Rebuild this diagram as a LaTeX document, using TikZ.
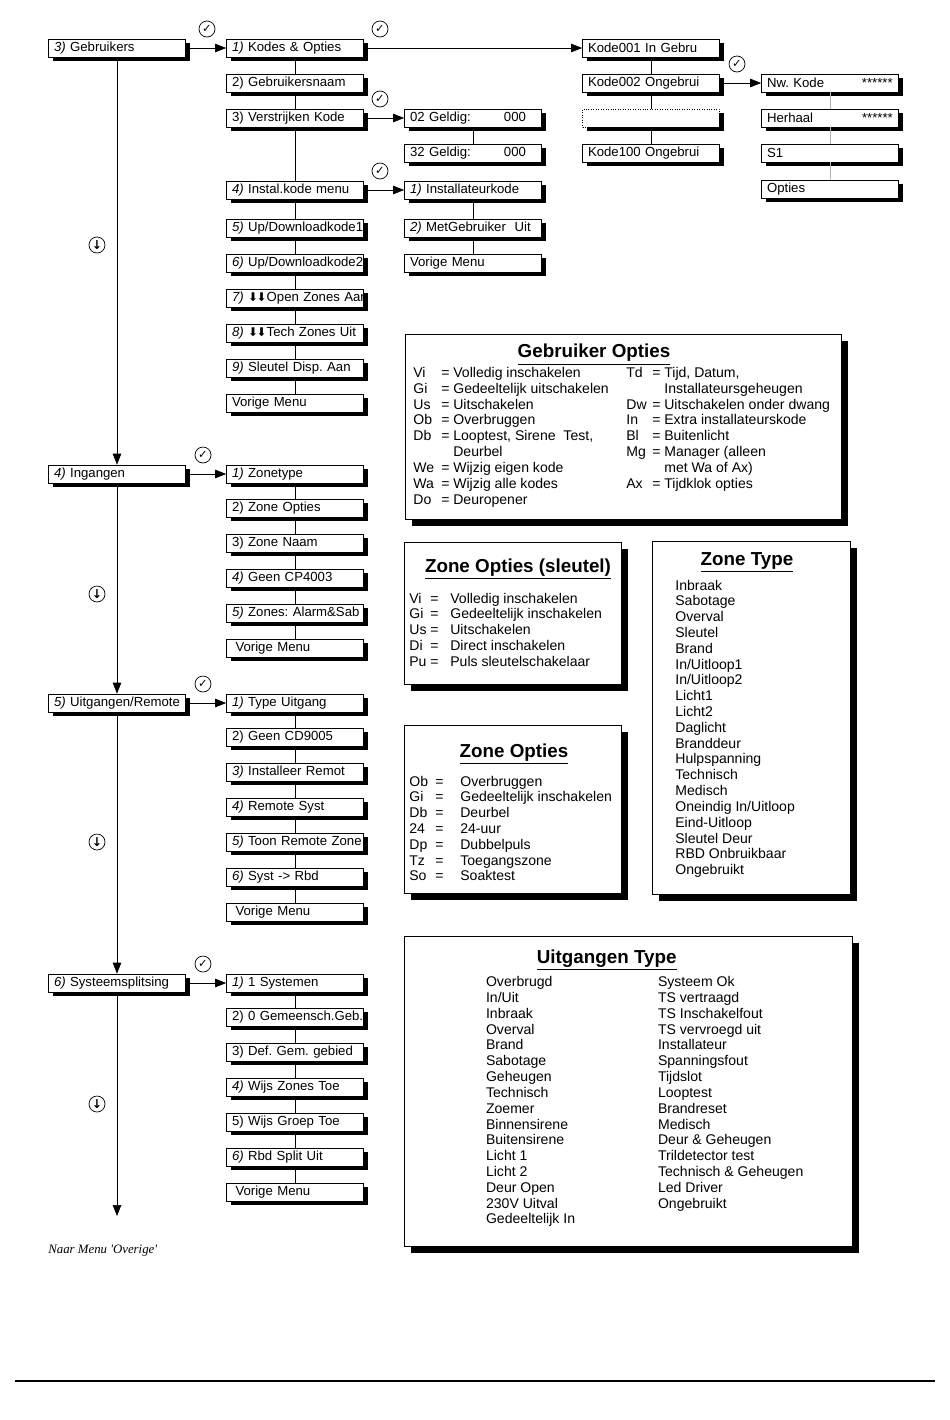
\documentclass[tikz,border=0pt]{standalone}
\usepackage{fontspec}
\setmainfont{Liberation Sans}
\newfontfamily\timesit{Liberation Serif}
\newfontfamily\symfnt{DejaVu Sans}
\usetikzlibrary{arrows.meta,shadows}
\frenchspacing
\newcommand{\nr}[1]{\textit{#1)}}
\newcommand{\pijl}{{\symfnt\fontsize{6.8}{7}\selectfont ⬇\kern-0.8pt⬇}}

\begin{document}
\begin{tikzpicture}[x=0.02cm,y=-0.02cm,
 mb/.style={draw,fill=white,minimum width=2.74cm,minimum height=0.36cm,inner xsep=0.11cm,inner ysep=0pt,
  text width=2.52cm,align=left,font=\fontsize{7.5}{9}\selectfont,
  execute at begin node={\leavevmode\hbox\bgroup},execute at end node={\egroup},
  drop shadow={shadow xshift=0.09cm,shadow yshift=-0.07cm,fill=black,opacity=1}},
 pnl/.style={draw,fill=white,inner sep=0pt,
  drop shadow={shadow xshift=0.14cm,shadow yshift=-0.14cm,fill=black,opacity=1}},
 ttl/.style={anchor=base,inner sep=0pt,font=\fontsize{10.7}{12}\selectfont\bfseries},
 lst/.style={anchor=base west,inner sep=0pt,font=\fontsize{8}{9}\selectfont},
 chk/.style={draw,circle,minimum size=0.32cm,inner sep=0pt,font=\symfnt\fontsize{6.5}{7}\selectfont},
 ar/.style={-{Triangle[length=0.22cm,width=0.17cm]}}]
\useasboundingbox (0,0) rectangle (950,1420);

% hoofdmenu
\node[mb] (m3) at (117,48) {\nr{3} Gebruikers};
\node[mb] (m4) at (117,474) {\nr{4} Ingangen};
\node[mb] (m5) at (117,703) {\nr{5} Uitgangen/Remote};
\node[mb] (m6) at (117,983) {\nr{6} Systeemsplitsing};
\coordinate (eind) at (117,1216);

% gebruikers
\node[mb] (a1) at (295,48) {\nr{1} Kodes \& Opties};
\node[mb] (a2) at (295,83) {2) Gebruikersnaam};
\node[mb] (a3) at (295,118) {3) Verstrijken Kode};
\node[mb] (a4) at (295,190) {\nr{4} Instal.kode menu};
\node[mb] (a5) at (295,228) {\nr{5} Up/Downloadkode1};
\node[mb] (a6) at (295,263) {\nr{6} Up/Downloadkode2};
\node[mb] (a7) at (295,298) {\nr{7} \pijl Open Zones Aan};
\node[mb] (a8) at (295,333) {\nr{8} \pijl Tech Zones Uit};
\node[mb] (a9) at (295,368) {\nr{9} Sleutel Disp. Aan};
\node[mb] (a10) at (295,403) {Vorige Menu};

\node[mb] (v1) at (473,118) {\makebox[1.88cm][l]{02 Geldig:}000};
\node[mb] (v2) at (473,153) {\makebox[1.88cm][l]{32 Geldig:}000};
\node[mb] (k1) at (473,190) {\nr{1} Installateurkode};
\node[mb] (k2) at (473,228) {\nr{2} MetGebruiker\ \ Uit};
\node[mb] (k3) at (473,263) {Vorige Menu};

\node[mb] (e1) at (651,48) {Kode001 In Gebru};
\node[mb] (e2) at (651,83) {Kode002 Ongebrui};
\node[mb,densely dotted] (e3) at (651,118) {};
\node[mb] (e4) at (651,153) {Kode100 Ongebrui};

\node[mb] (n1) at (830,83) {\makebox[1.9cm][l]{Nw. Kode}******};
\node[mb] (n2) at (830,118) {\makebox[1.9cm][l]{Herhaal}******};
\node[mb] (n3) at (830,153) {S1};
\node[mb] (n4) at (830,189) {Opties};

% ingangen
\node[mb] (b1) at (295,474) {\nr{1} Zonetype};
\node[mb] (b2) at (295,508) {2) Zone Opties};
\node[mb] (b3) at (295,543) {3) Zone Naam};
\node[mb] (b4) at (295,578) {\nr{4} Geen CP4003};
\node[mb] (b5) at (295,613) {\nr{5} Zones: Alarm\&Sab};
\node[mb] (b6) at (295,648) {\hspace{2pt}Vorige Menu};

% uitgangen
\node[mb] (c1) at (295,703) {\nr{1} Type Uitgang};
\node[mb] (c2) at (295,737) {2) Geen CD9005};
\node[mb] (c3) at (295,772) {\nr{3} Installeer Remot};
\node[mb] (c4) at (295,807) {\nr{4} Remote Syst};
\node[mb] (c5) at (295,842) {\nr{5} Toon Remote Zone};
\node[mb] (c6) at (295,877) {\nr{6} Syst -> Rbd};
\node[mb] (c7) at (295,912) {\hspace{2pt}Vorige Menu};

% systeemsplitsing
\node[mb] (d1) at (295,983) {\nr{1} 1 Systemen};
\node[mb] (d2) at (295,1017) {2) 0 Gemeensch.Geb.};
\node[mb] (d3) at (295,1052) {3) Def. Gem. gebied};
\node[mb] (d4) at (295,1087) {\nr{4} Wijs Zones Toe};
\node[mb] (d5) at (295,1122) {5) Wijs Groep Toe};
\node[mb] (d6) at (295,1157) {\nr{6} Rbd Split Uit};
\node[mb] (d7) at (295,1192) {\hspace{2pt}Vorige Menu};

\draw[ar] (m3) -- (m4);
\draw[ar] (m4) -- (m5);
\draw[ar] (m5) -- (m6);
\draw[ar] (m6) -- (eind);
\draw[ar] (m3) -- (a1);
\draw[ar] (m4) -- (b1);
\draw[ar] (m5) -- (c1);
\draw[ar] (m6) -- (d1);
\draw[ar] (a1) -- (e1);
\draw[ar] (a3) -- (v1);
\draw[ar] (a4) -- (k1);
\draw[ar] (e2) -- (n1);
\draw (a1) -- (a2) (a2) -- (a3) (a3) -- (a4) (a4) -- (a5) (a5) -- (a6);
\draw (a6) -- (a7) (a7) -- (a8) (a8) -- (a9) (a9) -- (a10);
\draw (v1) -- (v2) (k1) -- (k2) (k2) -- (k3);
\draw (e1) -- (e2) (e2) -- (e3) (e3) -- (e4);
\draw[gray!60] (n1) -- (n2) (n2) -- (n3) (n3) -- (n4);
\draw (b1) -- (b2) (b2) -- (b3) (b3) -- (b4) (b4) -- (b5) (b5) -- (b6);
\draw (c1) -- (c2) (c2) -- (c3) (c3) -- (c4) (c4) -- (c5) (c5) -- (c6) (c6) -- (c7);
\draw (d1) -- (d2) (d2) -- (d3) (d3) -- (d4) (d4) -- (d5) (d5) -- (d6) (d6) -- (d7);

\node[chk] (ok1) at (207,29) {✓};
\node[chk] (ok2) at (380,29) {✓};
\node[chk] (ok3) at (380,99) {✓};
\node[chk] (ok4) at (380,171) {✓};
\node[chk] (ok5) at (737,64) {✓};
\node[chk] (ok6) at (203,455) {✓};
\node[chk] (ok7) at (203,684) {✓};
\node[chk] (ok8) at (203,964) {✓};
\node[chk,font=\symfnt\bfseries\fontsize{7}{7}\selectfont] (neer1) at (97,245) {↓};
\node[chk,font=\symfnt\bfseries\fontsize{7}{7}\selectfont] (neer2) at (97,594) {↓};
\node[chk,font=\symfnt\bfseries\fontsize{7}{7}\selectfont] (neer3) at (97,842) {↓};
\node[chk,font=\symfnt\bfseries\fontsize{7}{7}\selectfont] (neer4) at (97,1104) {↓};

% legenda
\node[pnl,minimum width=8.72cm,minimum height=3.7cm] (go) at (623,426.5) {};
\node[ttl] (go-t) at (594,357.5) {\underline{Gebruiker Opties}};
\node[lst] (go-l) at (413,377.5) {\begin{tabular}[t]{@{}p{0.56cm}@{}p{0.24cm}@{}l@{}}
Vi & = & Volledig inschakelen\\
Gi & = & Gedeeltelijk uitschakelen\\
Us & = & Uitschakelen\\
Ob & = & Overbruggen\\
Db & = & Looptest, Sirene\ \ Test,\\
 & & Deurbel\\
We & = & Wijzig eigen kode\\
Wa & = & Wijzig alle kodes\\
Do & = & Deuropener
\end{tabular}};
\node[lst] (go-r) at (626,377.5) {\begin{tabular}[t]{@{}p{0.52cm}@{}p{0.24cm}@{}l@{}}
Td & = & Tijd, Datum,\\
 & & Installateursgeheugen\\
Dw & = & Uitschakelen onder dwang\\
In & = & Extra installateurskode\\
Bl & = & Buitenlicht\\
Mg & = & Manager (alleen\\
 & & met Wa of Ax)\\
Ax & = & Tijdklok opties
\end{tabular}};

\node[pnl,minimum width=4.34cm,minimum height=2.84cm] (zos) at (512.5,613) {};
\node[ttl] (zos-t) at (518,572) {\underline{Zone Opties (sleutel)}};
\node[lst] (zos-l) at (409,603) {\begin{tabular}[t]{@{}p{0.42cm}@{}p{0.4cm}@{}l@{}}
Vi & = & Volledig inschakelen\\
Gi & = & Gedeeltelijk inschakelen\\
Us & = & Uitschakelen\\
Di & = & Direct inschakelen\\
Pu & = & Puls sleutelschakelaar
\end{tabular}};

\node[pnl,minimum width=3.96cm,minimum height=7.06cm] (zt) at (751,717.5) {};
\node[ttl] (zt-t) at (747,565) {\underline{Zone Type}};
\node[lst] (zt-l) at (675,590) {\begin{tabular}[t]{@{}l@{}}
Inbraak\\ Sabotage\\ Overval\\ Sleutel\\ Brand\\ In/Uitloop1\\ In/Uitloop2\\ Licht1\\ Licht2\\
Daglicht\\ Branddeur\\ Hulpspanning\\ Technisch\\ Medisch\\ Oneindig In/Uitloop\\ Eind-Uitloop\\
Sleutel Deur\\ RBD Onbruikbaar\\ Ongebruikt
\end{tabular}};

\node[pnl,minimum width=4.34cm,minimum height=3.36cm] (zo) at (512.5,809) {};
\node[ttl] (zo-t) at (514,757) {\underline{Zone Opties}};
\node[lst] (zo-l) at (409,786) {\begin{tabular}[t]{@{}p{0.52cm}@{}p{0.5cm}@{}l@{}}
Ob & = & Overbruggen\\
Gi & = & Gedeeltelijk inschakelen\\
Db & = & Deurbel\\
24 & = & 24-uur\\
Dp & = & Dubbelpuls\\
Tz & = & Toegangszone\\
So & = & Soaktest
\end{tabular}};

\node[pnl,minimum width=8.96cm,minimum height=6.2cm] (ut) at (628,1091) {};
\node[ttl] (ut-t) at (606.7,963) {\underline{Uitgangen Type}};
\node[lst] (ut-l) at (485.7,986.7) {\begin{tabular}[t]{@{}l@{}}
Overbrugd\\ In/Uit\\ Inbraak\\ Overval\\ Brand\\ Sabotage\\ Geheugen\\ Technisch\\ Zoemer\\
Binnensirene\\ Buitensirene\\ Licht 1\\ Licht 2\\ Deur Open\\ 230V Uitval\\ Gedeeltelijk In
\end{tabular}};
\node[lst] (ut-r) at (657.7,986.7) {\begin{tabular}[t]{@{}l@{}}
Systeem Ok\\ TS vertraagd\\ TS Inschakelfout\\ TS vervroegd uit\\ Installateur\\ Spanningsfout\\
Tijdslot\\ Looptest\\ Brandreset\\ Medisch\\ Deur \& Geheugen\\ Trildetector test\\
Technisch \& Geheugen\\ Led Driver\\ Ongebruikt
\end{tabular}};

\node[anchor=west,inner sep=0pt,font=\timesit\itshape\fontsize{7.3}{9}\selectfont] (naar) at (48,1251) {Naar Menu 'Overige'};
\coordinate (rl) at (15,1381);
\coordinate (rr) at (935,1381);
\draw[line width=1.1pt] (rl) -- (rr);
\end{tikzpicture}
\end{document}
